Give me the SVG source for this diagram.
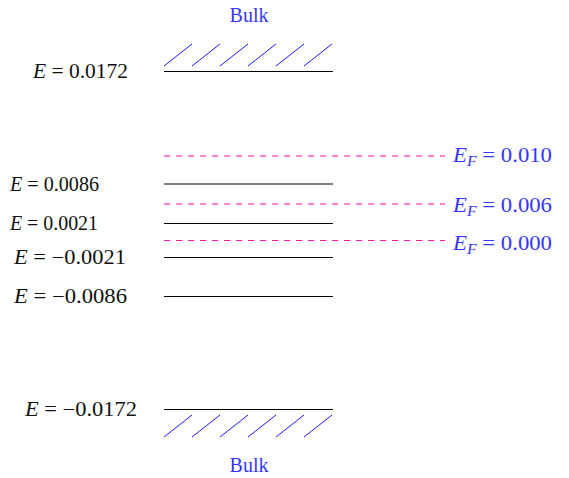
<svg xmlns="http://www.w3.org/2000/svg" width="569" height="478" viewBox="0 0 569 478">
<style>
text{font-family:'Liberation Serif','Times New Roman',Times,serif;font-size:20px;fill:#111}
.b{fill:#3636ff}
.i{font-style:italic}
.lvl{stroke:#000;stroke-width:1.2}
.h{stroke:#1a1aff;stroke-width:1}
.d{stroke:#ff5cb4;stroke-width:1.3;stroke-dasharray:6.2 5.8}
.d2{stroke:#ff1aa0;stroke-width:1.2}
</style>
<rect width="569" height="478" fill="#fff"/>
<g id="top-bulk">
<text class="b" x="249" y="22" text-anchor="middle">Bulk</text>
<path class="h" d="M164,66l28,-22M192,66l28,-22M220,66l28,-22M248,66l28,-22M276,66l28,-22M304,66l28,-22"/>
<line class="lvl" x1="164" y1="71.5" x2="333" y2="71.5"/>
<text x="33" y="78" textLength="95" lengthAdjust="spacingAndGlyphs"><tspan class="i">E</tspan> = 0.0172</text>
</g>
<g id="lvl-0086">
<line class="lvl" x1="164" y1="184" x2="333" y2="184"/>
<text x="10" y="191" textLength="89" lengthAdjust="spacingAndGlyphs"><tspan class="i">E</tspan> = 0.0086</text>
</g>
<g id="lvl-0021">
<line class="lvl" x1="164" y1="223.5" x2="333" y2="223.5"/>
<text x="10" y="230" textLength="88" lengthAdjust="spacingAndGlyphs"><tspan class="i">E</tspan> = 0.0021</text>
</g>
<g id="lvl-m0021">
<line class="lvl" x1="164" y1="257.5" x2="333" y2="257.5"/>
<text x="14" y="264" textLength="112" lengthAdjust="spacingAndGlyphs"><tspan class="i">E</tspan> = −0.0021</text>
</g>
<g id="lvl-m0086">
<line class="lvl" x1="164" y1="296.5" x2="333" y2="296.5"/>
<text x="14" y="303" textLength="113" lengthAdjust="spacingAndGlyphs"><tspan class="i">E</tspan> = −0.0086</text>
</g>
<g id="bottom-bulk">
<line class="lvl" x1="164" y1="409.5" x2="333" y2="409.5"/>
<path class="h" d="M164,437l28,-22M192,437l28,-22M220,437l28,-22M248,437l28,-22M276,437l28,-22M304,437l28,-22"/>
<text x="25" y="416" textLength="112" lengthAdjust="spacingAndGlyphs"><tspan class="i">E</tspan> = −0.0172</text>
<text class="b" x="249" y="472" text-anchor="middle">Bulk</text>
</g>
<g id="fermi-010">
<line class="d" x1="164" y1="156" x2="445" y2="156"/>
<text class="b" x="453" y="162" textLength="99" lengthAdjust="spacingAndGlyphs"><tspan class="i">E</tspan><tspan class="i" font-size="14" dy="4">F</tspan><tspan dy="-4"> = 0.010</tspan></text>
</g>
<g id="fermi-006">
<line class="d" x1="164" y1="204" x2="445" y2="204"/>
<text class="b" x="453" y="212" textLength="99" lengthAdjust="spacingAndGlyphs"><tspan class="i">E</tspan><tspan class="i" font-size="14" dy="4">F</tspan><tspan dy="-4"> = 0.006</tspan></text>
</g>
<g id="fermi-000">
<line class="d d2" x1="164" y1="240.5" x2="445" y2="240.5"/>
<text class="b" x="453" y="250" textLength="99" lengthAdjust="spacingAndGlyphs"><tspan class="i">E</tspan><tspan class="i" font-size="14" dy="4">F</tspan><tspan dy="-4"> = 0.000</tspan></text>
</g>
</svg>
